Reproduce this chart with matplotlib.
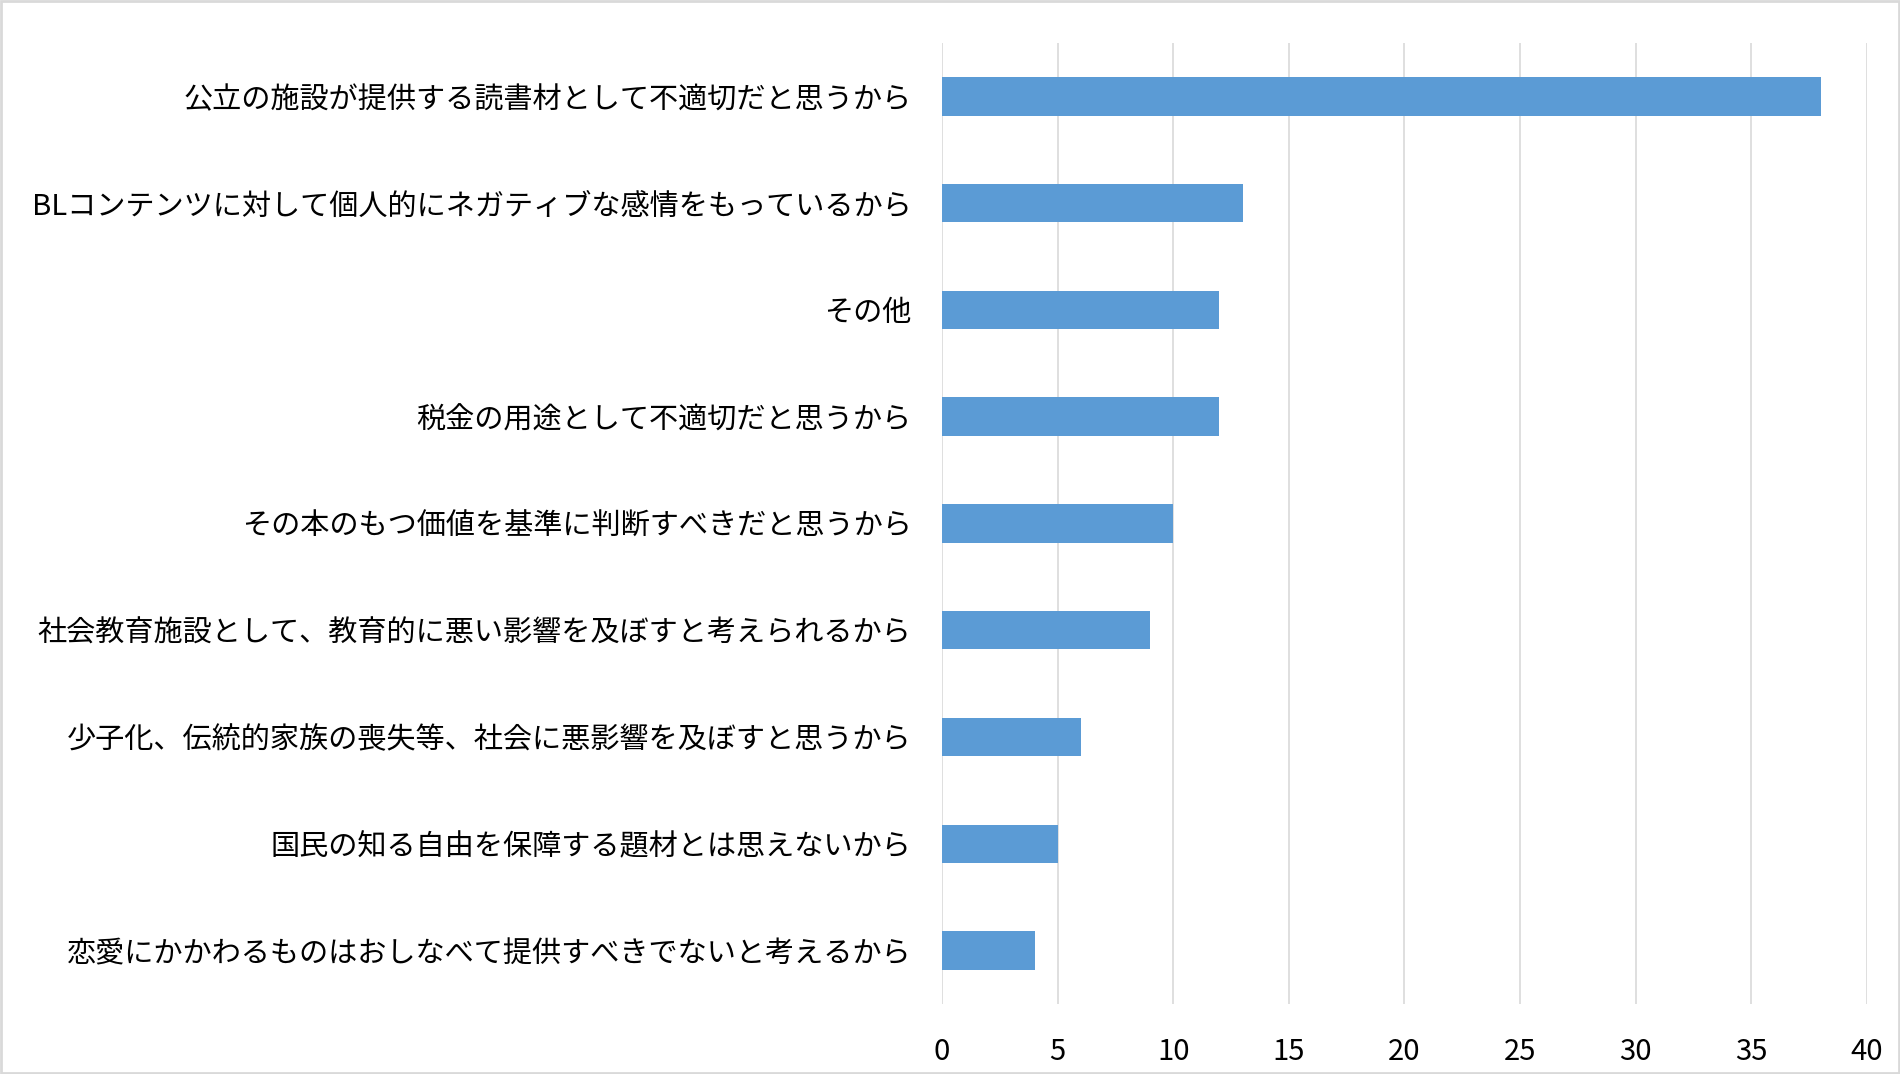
import matplotlib
matplotlib.use("Agg")
import matplotlib.pyplot as plt
from matplotlib.patches import Rectangle

plt.rcParams['font.family'] = ['Noto Sans CJK JP', 'DejaVu Sans']

# 回答項目（上から順）
reasons = [
    "公立の施設が提供する読書材として不適切だと思うから",
    "BLコンテンツに対して個人的にネガティブな感情をもっているから",
    "その他",
    "税金の用途として不適切だと思うから",
    "その本のもつ価値を基準に判断すべきだと思うから",
    "社会教育施設として、教育的に悪い影響を及ぼすと考えられるから",
    "少子化、伝統的家族の喪失等、社会に悪影響を及ぼすと思うから",
    "国民の知る自由を保障する題材とは思えないから",
    "恋愛にかかわるものはおしなべて提供すべきでないと考えるから",
]
counts = [38, 13, 12, 12, 10, 9, 6, 5, 4]
xticks = [0, 5, 10, 15, 20, 25, 30, 35, 40]

bar_color = "#5B9BD5"
grid_color = "#D9D9D9"

fig = plt.figure(figsize=(19, 10.74), dpi=100)
ax = fig.add_axes([0.4958, 0.0652, 0.4868, 0.8948])

ypos = list(range(len(reasons)))
ax.barh(ypos, counts, height=0.36, color=bar_color, zorder=3)

ax.set_xlim(0, 40)
ax.set_ylim(len(reasons) - 0.5, -0.5)
ax.set_xticks(xticks)
ax.set_xticklabels([str(t) for t in xticks])
ax.set_yticks(ypos)
ax.set_yticklabels(reasons)

ax.grid(axis="x", color=grid_color, linewidth=1.2, zorder=0)
ax.grid(axis="y", visible=False)
for s in ax.spines.values():
    s.set_visible(False)

ax.tick_params(axis="x", length=0, pad=24, labelsize=21, labelcolor="#000000")
ax.tick_params(axis="y", length=0, pad=22, labelsize=21, labelcolor="#000000")

# 外枠
fig.patches.append(Rectangle((0.0005, 0.001), 0.999, 0.998, transform=fig.transFigure,
                             fill=False, edgecolor="#D9D9D9", linewidth=2))

fig.savefig("out.png", dpi=100)
